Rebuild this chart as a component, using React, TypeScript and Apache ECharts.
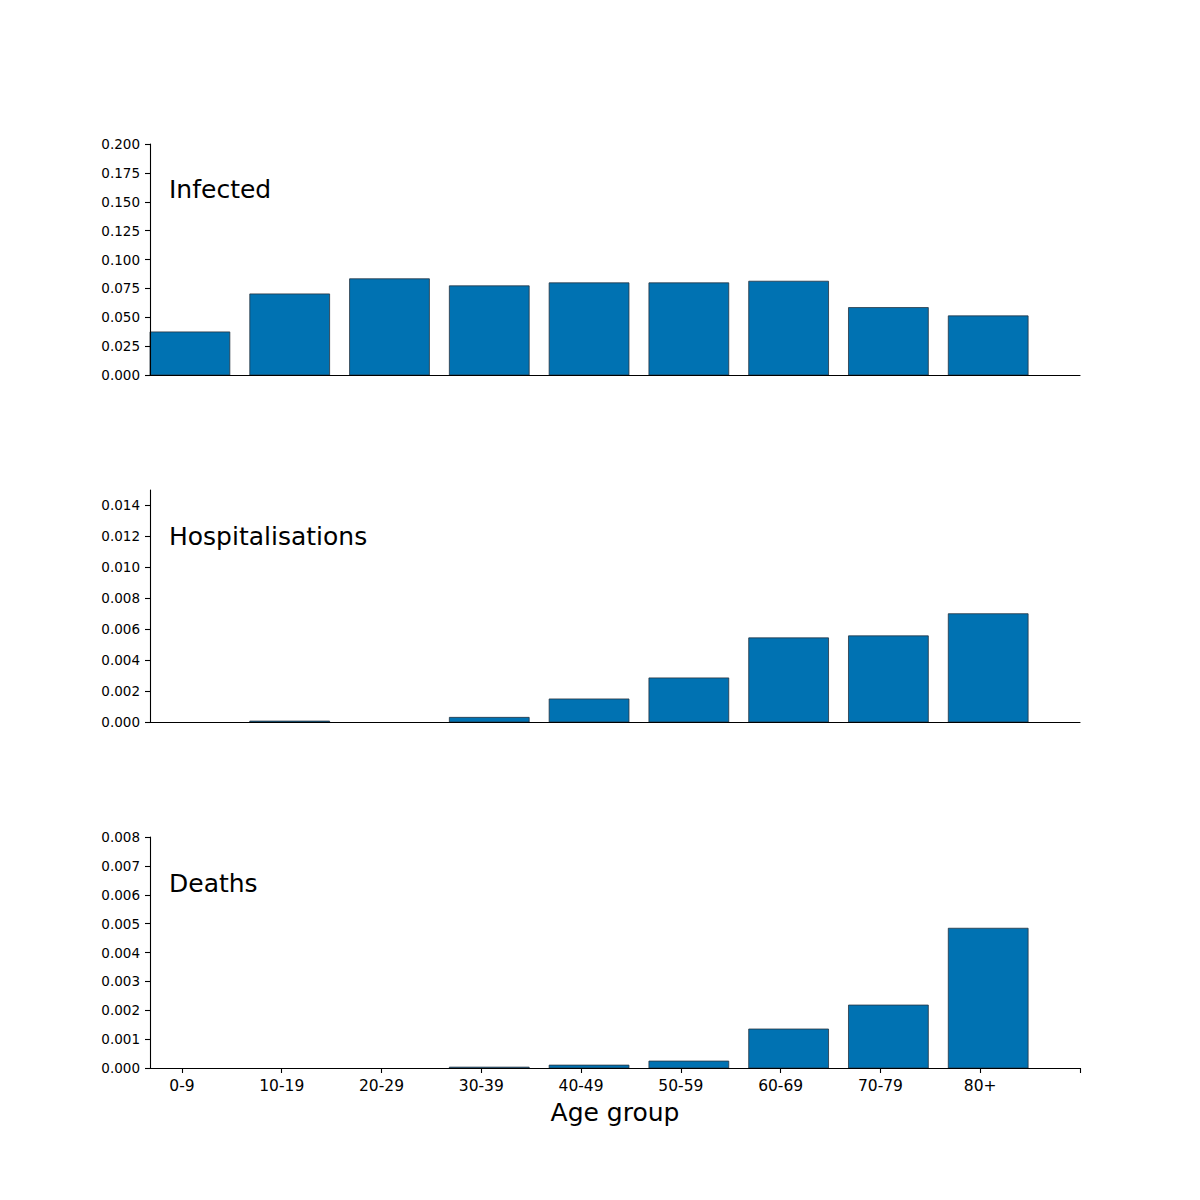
import React, { useEffect, useRef } from "react";
import * as echarts from "echarts";

const categories = ["0-9", "10-19", "20-29", "30-39", "40-49", "50-59", "60-69", "70-79", "80+"];
const infected = [0.0373, 0.0702, 0.0833, 0.0772, 0.0798, 0.0798, 0.0812, 0.0584, 0.0512];
const hospitalisations = [0, 0.00006, 0, 0.0003, 0.00149, 0.00285, 0.00544, 0.00557, 0.007];
const deaths = [0, 0, 0, 0.00003, 0.0001, 0.00024, 0.00135, 0.00218, 0.00484];

const infectedTicks = [0, 0.025, 0.05, 0.075, 0.1, 0.125, 0.15, 0.175, 0.2];
const hospTicks = [0, 0.002, 0.004, 0.006, 0.008, 0.01, 0.012, 0.014];
const deathTicks = [0, 0.001, 0.002, 0.003, 0.004, 0.005, 0.006, 0.007, 0.008];
const panelTitles = ["Infected", "Hospitalisations", "Deaths"];
const xAxisTitle = "Age group";

const FONT = "DejaVu Sans";
const BAR_COLOR = "#0072B2";
const EDGE_COLOR = "#263440";

export default function App() {
  const ref = useRef<HTMLDivElement>(null);

  useEffect(() => {
    document.body.style.margin = "0";
    if (!ref.current) return;
    const chart = echarts.init(ref.current, undefined, { renderer: "svg" });

    const tops = [144, 490, 837];
    const bottoms = [375, 722, 1068];
    const maxes = [0.2, 0.015, 0.008];
    const ticksList = [infectedTicks, hospTicks, deathTicks];
    const seriesData = [infected, hospitalisations, deaths];

    const labelPos = categories.map((_, i) => i - 0.08);
    const tickPos = [...labelPos, 8.92];

    const grids = tops.map((t, k) => ({
      left: 150,
      right: 120,
      top: t,
      height: bottoms[k] - t,
      containLabel: false,
    }));

    const xAxes = tops.map((_, k) => ({
      type: "value",
      gridIndex: k,
      min: -0.4,
      max: 8.92,
      splitLine: { show: false },
      axisLine: { show: true, onZero: false, lineStyle: { color: "#000", width: 1.1 } },
      axisTick:
        k === 2
          ? { show: true, customValues: tickPos, length: 5, lineStyle: { color: "#000", width: 1.1 } }
          : { show: false },
      axisLabel:
        k === 2
          ? {
              show: true,
              customValues: labelPos,
              margin: 10,
              fontFamily: FONT,
              fontSize: 15.5,
              color: "#000",
              formatter: (v: number) => categories[Math.round(v + 0.08)] ?? "",
            }
          : { show: false },
      z: 3,
    }));

    const yAxes = tops.map((_, k) => ({
      type: "value",
      gridIndex: k,
      min: 0,
      max: maxes[k],
      splitLine: { show: false },
      axisLine: { show: true, onZero: false, lineStyle: { color: "#000", width: 1.1 } },
      axisTick: {
        show: true,
        customValues: ticksList[k],
        length: 5,
        lineStyle: { color: "#000", width: 1.1 },
      },
      axisLabel: {
        show: true,
        customValues: ticksList[k],
        margin: 10,
        fontFamily: FONT,
        fontSize: 13.5,
        color: "#000",
        formatter: (v: number) => v.toFixed(3),
      },
      z: 3,
    }));

    const series = seriesData.map((vals, k) => ({
      type: "custom",
      xAxisIndex: k,
      yAxisIndex: k,
      clip: false,
      z: 2,
      data: vals.map((v, i) => [i, v]),
      renderItem: (params: any, api: any) => {
        const x = api.value(0);
        const y = api.value(1);
        if (!y) return null;
        const p0 = api.coord([x - 0.4, 0]);
        const p1 = api.coord([x + 0.4, y]);
        return {
          type: "rect",
          shape: {
            x: p0[0],
            y: p1[1],
            width: p1[0] - p0[0],
            height: p0[1] - p1[1],
          },
          style: { fill: BAR_COLOR, stroke: EDGE_COLOR, lineWidth: 0.8 },
        };
      },
    }));

    const textYs = [189, 536, 883];
    const graphics: any[] = panelTitles.map((t, k) => ({
      type: "text",
      x: 169,
      y: textYs[k],
      style: {
        text: t,
        fontFamily: FONT,
        fontSize: 25,
        fill: "#000",
        align: "left",
        verticalAlign: "middle",
      },
    }));
    graphics.push({
      type: "text",
      x: 615,
      y: 1112,
      style: {
        text: xAxisTitle,
        fontFamily: FONT,
        fontSize: 25,
        fill: "#000",
        align: "center",
        verticalAlign: "middle",
      },
    });

    chart.setOption({
      animation: false,
      backgroundColor: "#fff",
      grid: grids,
      xAxis: xAxes,
      yAxis: yAxes,
      series,
      graphic: graphics,
    } as any);

    return () => chart.dispose();
  }, []);

  return <div ref={ref} style={{ width: 1200, height: 1200 }} />;
}
